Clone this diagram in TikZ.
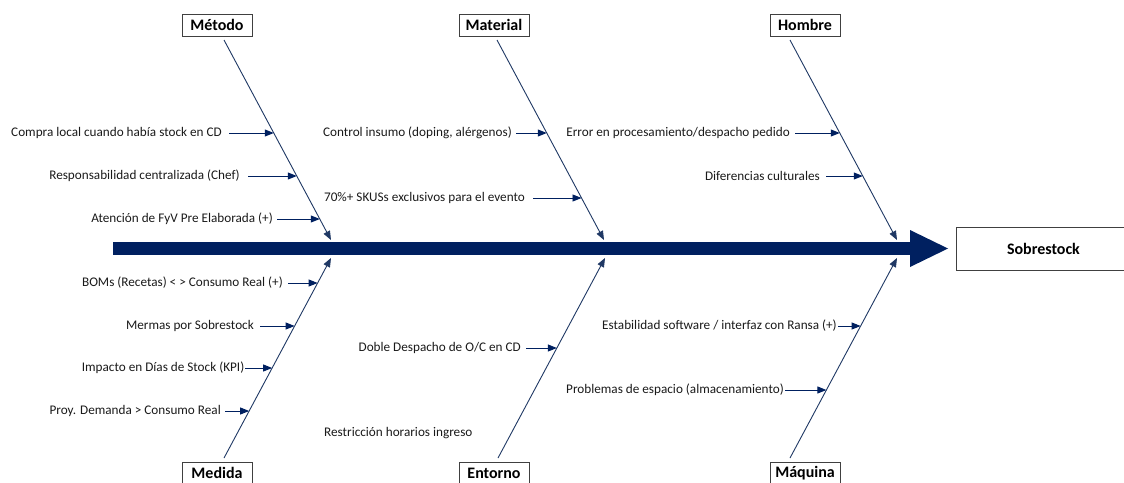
\documentclass[tikz,border=0pt]{standalone}
\usepackage{fontspec}
\setmainfont{Carlito}
\usetikzlibrary{arrows.meta,calc}
\definecolor{navy}{HTML}{002060}
\definecolor{bonecol}{HTML}{1F3864}
\definecolor{framecol}{HTML}{404040}
\definecolor{txtcol}{HTML}{1A1A1A}
\begin{document}
\begin{tikzpicture}[x=1pt,y=-1pt,
  cat/.style={draw=framecol, line width=0.9pt, fill=white, minimum width=70pt,
    minimum height=22pt, inner sep=0pt, text=black,
    font=\fontsize{16}{18}\selectfont\bfseries},
  cause/.style={anchor=east, inner ysep=0pt, inner xsep=6pt, text=txtcol,
    font=\fontsize{13.2}{15}\selectfont},
  bonearrow/.style={draw=bonecol, line width=0.9pt,
    -{Triangle[length=9pt,width=7pt]}},
  subarrow/.style={draw=navy, line width=0.9pt,
    -{Triangle[length=9pt,width=7pt]}},
]
\useasboundingbox (0,0) rectangle (1124,482);
\clip (0,0) rectangle (1124,482);

% main spine with its head
\fill[navy] (113,242) rectangle (911,255);
\fill[navy] (910,230) -- (948,248.5) -- (910,267) -- cycle;

% effect
\node[draw=framecol, line width=0.9pt, anchor=west, minimum width=175pt,
  minimum height=43pt, inner sep=0pt, font=\fontsize{16}{18}\selectfont\bfseries]
  (effect) at (955.5,249) {Sobrestock};

% category boxes
\node[cat] (metodo)   at (217,25)  {Método};
\node[cat] (material) at (494,25)  {Material};
\node[cat] (hombre)   at (805,25)  {Hombre};
\node[cat] (medida)   at (217,473) {Medida};
\node[cat] (entorno)  at (494,473) {Entorno};
\node[cat] (maquina)  at (805,473) {Máquina};

% bone ends
\coordinate (mS) at (224,40);  \coordinate (mE) at (331,240);
\coordinate (aS) at (497,40);  \coordinate (aE) at (604,240);
\coordinate (hS) at (790,40);  \coordinate (hE) at (897,240);
\coordinate (dS) at (224,458); \coordinate (dE) at (331,258);
\coordinate (eS) at (498,458); \coordinate (eE) at (605,258);
\coordinate (qS) at (790,458); \coordinate (qE) at (897,258);

\draw[bonearrow] (mS) -- (mE);
\draw[bonearrow] (aS) -- (aE);
\draw[bonearrow] (hS) -- (hE);
\draw[bonearrow] (dS) -- (dE);
\draw[bonearrow] (eS) -- (eE);
\draw[bonearrow] (qS) -- (qE);

% points where the causes meet their bones
\coordinate (m1) at ($(mS)!0.465!(mE)$);
\coordinate (m2) at ($(mS)!0.68!(mE)$);
\coordinate (m3) at ($(mS)!0.895!(mE)$);
\coordinate (a1) at ($(aS)!0.465!(aE)$);
\coordinate (a2) at ($(aS)!0.79!(aE)$);
\coordinate (h1) at ($(hS)!0.465!(hE)$);
\coordinate (h2) at ($(hS)!0.68!(hE)$);
\coordinate (d1) at ($(dS)!0.875!(dE)$);
\coordinate (d2) at ($(dS)!0.66!(dE)$);
\coordinate (d3) at ($(dS)!0.45!(dE)$);
\coordinate (d4) at ($(dS)!0.235!(dE)$);
\coordinate (e1) at ($(eS)!0.55!(eE)$);
\coordinate (q1) at ($(qS)!0.66!(qE)$);
\coordinate (q2) at ($(qS)!0.34!(qE)$);

% causes: Método
\node[cause, inner xsep=7pt] (tm1) at (229,133) {Compra local cuando había stock en CD};
\node[cause, inner xsep=8pt] (tm2) at (248,176) {Responsabilidad centralizada (Chef)};
\node[cause, inner xsep=4pt] (tm3) at (277,219) {Atención de FyV Pre Elaborada (+)};
% causes: Material
\node[cause, inner xsep=4pt] (ta1) at (516,133) {Control insumo (doping, alérgenos)};
\node[cause, inner xsep=8pt] (ta2) at (533,198) {70\%+ SKUSs exclusivos para el evento};
% causes: Hombre
\node[cause, inner xsep=5pt] (th1) at (795,133) {Error en procesamiento/despacho pedido};
\node[cause, inner xsep=6pt] (th2) at (826,176) {Diferencias culturales};
% causes: Medida
\node[cause, inner xsep=5pt] (td1) at (288,283) {BOMs (Recetas) < > Consumo Real (+)};
\node[cause, inner xsep=6pt] (td2) at (260,326) {Mermas por Sobrestock};
\node[cause, inner xsep=0.5pt] (td3) at (245,368) {Impacto en Días de Stock (KPI)};
\node[cause, inner xsep=4pt] (td4) at (225,411) {Proy. Demanda > Consumo Real};
% causes: Entorno
\node[cause, inner xsep=5pt] (te1) at (526,348) {Doble Despacho de O/C en CD};
\node[cause, anchor=west, inner xsep=0pt] (te2) at (324,433) {Restricción horarios ingreso};
% causes: Máquina
\node[cause, inner xsep=1pt] (tq1) at (838,326) {Estabilidad software / interfaz con Ransa (+)};
\node[cause, inner xsep=1pt] (tq2) at (785,390) {Problemas de espacio (almacenamiento)};

% cause arrows
\foreach \t/\p in {tm1/m1, tm2/m2, tm3/m3, ta1/a1, ta2/a2, th1/h1, th2/h2,
                   td1/d1, td2/d2, td3/d3, td4/d4, te1/e1, tq1/q1, tq2/q2}
  \draw[subarrow] (\t.east) -- (\t.east -| \p);
\end{tikzpicture}
\end{document}
